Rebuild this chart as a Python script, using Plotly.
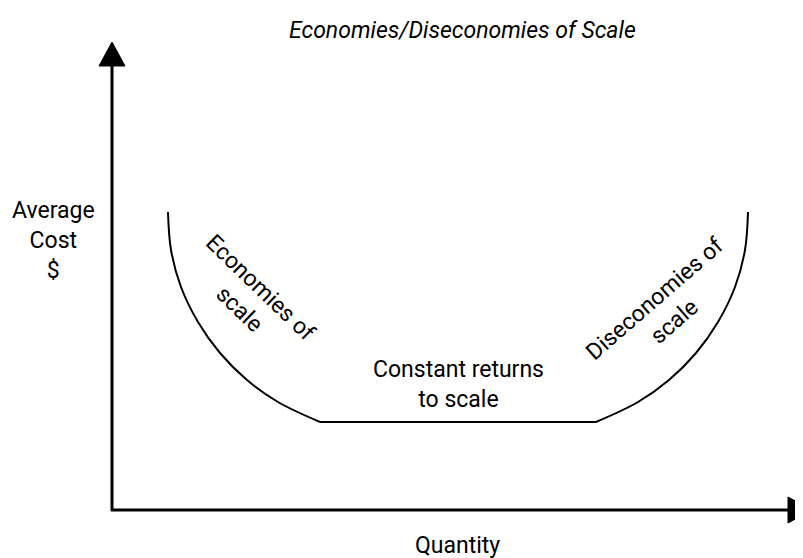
import plotly.graph_objects as go

# values, origin at the axes corner (units ~ pixels)
left_arc_x = [56, 59, 69, 86, 108, 135, 166, 208]
left_arc_y = [298, 260, 223, 188, 157, 130, 108, 88]
flat_x = [208, 484]
flat_y = [88, 88]
right_arc_x = [484, 526, 557, 584, 606, 623, 633, 636]
right_arc_y = [88, 108, 130, 157, 188, 223, 260, 298]

y_axis_top = 444
x_axis_end = 676

FONT = "Roboto, Liberation Sans, sans-serif"

fig = go.Figure()

line = dict(color="black", width=2)
fig.add_trace(go.Scatter(x=left_arc_x, y=left_arc_y, mode="lines", line=dict(line, shape="spline")))
fig.add_trace(go.Scatter(x=flat_x, y=flat_y, mode="lines", line=line))
fig.add_trace(go.Scatter(x=right_arc_x, y=right_arc_y, mode="lines", line=dict(line, shape="spline")))

# axes with arrow heads
axis_line = dict(color="black", width=3)
fig.add_trace(go.Scatter(x=[0, 0], y=[-1, y_axis_top], mode="lines", line=axis_line))
fig.add_trace(go.Scatter(x=[-1, x_axis_end], y=[0, 0], mode="lines", line=axis_line))
fig.add_trace(go.Scatter(x=[-13, 13, 0, -13], y=[y_axis_top, y_axis_top, y_axis_top + 24, y_axis_top],
                         mode="lines", fill="toself", fillcolor="black", line=dict(color="black", width=1)))
fig.add_trace(go.Scatter(x=[x_axis_end, x_axis_end, x_axis_end + 24, x_axis_end], y=[-13, 13, 0, -13],
                         mode="lines", fill="toself", fillcolor="black", line=dict(color="black", width=1)))

txt = dict(family=FONT, size=23, color="black")
notes = [
    ("<i>Economies/Diseconomies of Scale</i>", 350, 480, 0, 23),
    ("Average<br>Cost<br>$", -59, 270, 0, 23),
    ("Economies of<br>scale", 138, 212, 44, 23),
    ("Diseconomies of<br>scale", 552, 200, -41, 23),
    ("Constant returns<br>to scale", 346, 126, 0, 23),
    ("Quantity", 345, -35, 0, 23),
]
for text, x, y, ang, size in notes:
    fig.add_annotation(text=text, x=x, y=y, textangle=ang, showarrow=False,
                       xanchor="center", yanchor="middle", font=dict(txt, size=size))

# the page puts the plot 8px in from the top-left corner
fig.update_xaxes(visible=False, range=[-104, 691])
fig.update_yaxes(visible=False, range=[-48, 502])
fig.update_layout(width=795, height=550, margin=dict(l=0, r=0, t=0, b=0),
                  plot_bgcolor="white", paper_bgcolor="white", showlegend=False)

fig.write_html("out.html")
